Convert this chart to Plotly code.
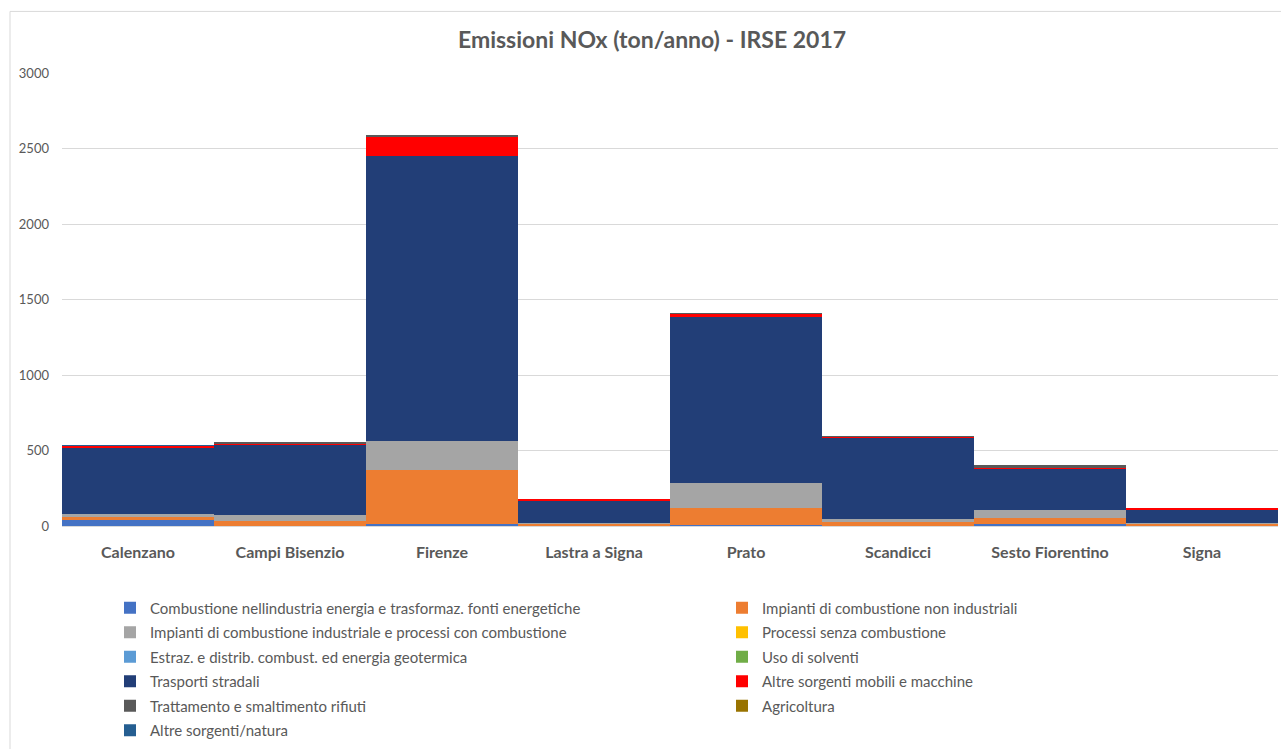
import plotly.graph_objects as go

comuni = ["Calenzano", "Campi Bisenzio", "Firenze", "Lastra a Signa",
          "Prato", "Scandicci", "Sesto Fiorentino", "Signa"]

# NOx emissions by macrosector (ton/anno), IRSE 2017
comb_energia = [45, 3, 15, 3, 6, 3, 13, 2]
imp_non_ind = [12, 28, 355, 15, 112, 25, 37, 12]
imp_ind = [20, 40, 196, 5, 170, 20, 53, 3]
proc_senza = [0, 0, 0, 0, 0, 0, 0, 0]
estraz = [0, 0, 0, 0, 0, 0, 0, 0]
solventi = [0, 0, 0, 0, 0, 0, 0, 0]
trasporti = [445, 469, 1883, 148, 1093, 535, 281, 88]
altre_mobili = [8, 9, 128, 10, 24, 8, 3, 17]
rifiuti = [3, 2, 13, 0, 1, 3, 15, 0]
agricoltura = [0, 0, 0, 0, 0, 0, 0, 0]
natura = [2, 0, 0, 0, 0, 0, 0, 0]

series = [
    ("Combustione nellindustria energia e trasformaz. fonti energetiche", comb_energia, "#4472C4", "legend"),
    ("Impianti di combustione non industriali", imp_non_ind, "#ED7D31", "legend2"),
    ("Impianti di combustione industriale e processi con combustione", imp_ind, "#A5A5A5", "legend"),
    ("Processi senza combustione", proc_senza, "#FFC000", "legend2"),
    ("Estraz. e distrib. combust. ed energia geotermica", estraz, "#5B9BD5", "legend"),
    ("Uso di solventi", solventi, "#70AD47", "legend2"),
    ("Trasporti stradali", trasporti, "#223E77", "legend"),
    ("Altre sorgenti mobili e macchine", altre_mobili, "#FF0000", "legend2"),
    ("Trattamento e smaltimento rifiuti", rifiuti, "#595959", "legend"),
    ("Agricoltura", agricoltura, "#997300", "legend2"),
    ("Altre sorgenti/natura", natura, "#255E91", "legend"),
]

fig = go.Figure()
for i, (name, vals, color, leg) in enumerate(series):
    fig.add_trace(go.Bar(
        x=comuni, y=vals, name=name, legend=leg, legendgroup=f"g{i}",
        marker=dict(color=color, line=dict(width=0)),
    ))

FONT = "Lato"
GREY = "#595959"

L, R, T, B = 62, 3, 73, 220
W, H = 1281, 749
pw, ph = W - L - R, H - T - B

def px_x(p):
    return (p - L) / pw

def px_y(p):
    return (H - B - p) / ph

legend_common = dict(
    orientation="v", xanchor="left", yanchor="top",
    font=dict(family=FONT, size=15, color=GREY),
    traceorder="grouped", tracegroupgap=2,
    bgcolor="rgba(0,0,0,0)", itemclick=False,
)

fig.update_layout(
    width=W, height=H,
    margin=dict(l=L, r=R, t=T, b=B),
    barmode="stack", bargap=0,
    paper_bgcolor="white", plot_bgcolor="white",
    font=dict(family=FONT, color=GREY),
    title=dict(text="<b>Emissioni NOx (ton/anno) - IRSE 2017</b>",
               x=652 / W, xanchor="center", y=1 - 40 / H, yanchor="middle",
               font=dict(family=FONT, size=23, color=GREY)),
    xaxis=dict(tickfont=dict(family=FONT, size=16, color=GREY, weight="bold"),
               showgrid=False, showline=True, linecolor="#D9D9D9",
               ticks="", ticklabelstandoff=12),
    yaxis=dict(range=[0, 3000], dtick=500, tickfont=dict(family=FONT, size=13, color=GREY),
               showgrid=True, gridcolor="#D9D9D9", gridwidth=1,
               zeroline=False, showline=False, ticks="", ticklabelstandoff=12),
    legend=dict(x=px_x(110), y=px_y(595), **legend_common),
    legend2=dict(x=px_x(722), y=px_y(595), **legend_common),
    shapes=[dict(type="rect", xref="paper", yref="paper",
                 x0=px_x(10), x1=px_x(1300), y0=px_y(760), y1=px_y(11),
                 line=dict(color="#D9D9D9", width=1), layer="below")],
)

fig.write_html("out.html")
